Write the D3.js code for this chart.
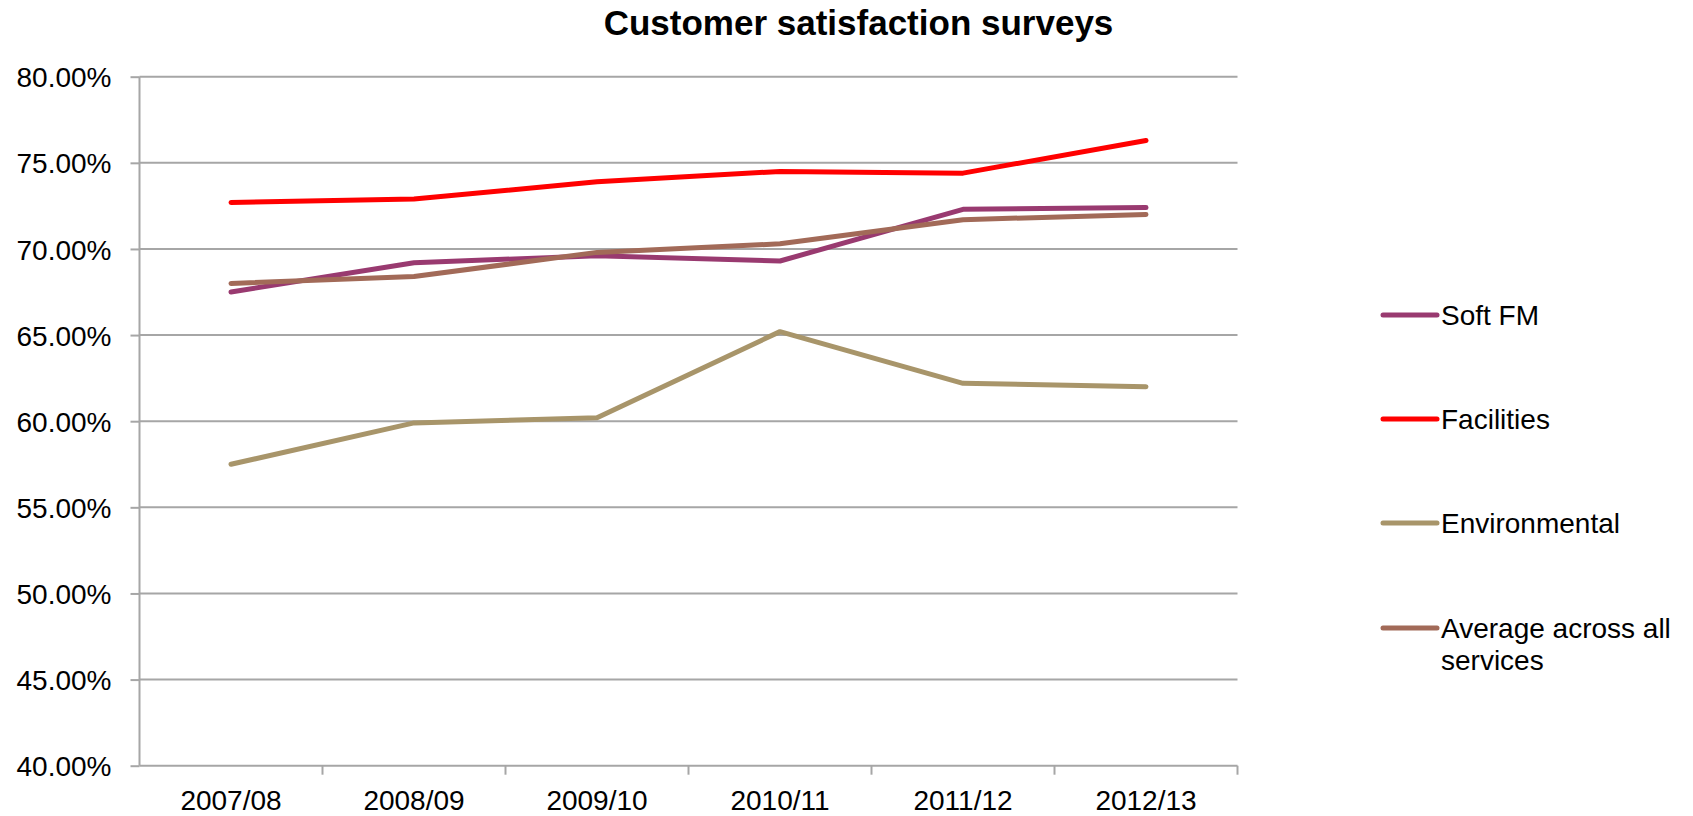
<!DOCTYPE html>
<html>
<head>
<meta charset="utf-8">
<script src="https://cdn.jsdelivr.net/npm/d3@7"></script>
<style>
  html, body { margin: 0; padding: 0; background: #fff; }
  svg { display: block; font-family: Arial, "Liberation Sans", sans-serif; }
</style>
</head>
<body>
<svg id="chart" width="1693" height="816"></svg>
<script>
// Survey years
const years = ["2007/08", "2008/09", "2009/10", "2010/11", "2011/12", "2012/13"];

// Satisfaction scores (%) per service
const softFM        = [67.5, 69.2, 69.6, 69.3, 72.3, 72.4];
const facilities    = [72.7, 72.9, 73.9, 74.5, 74.4, 76.3];
const environmental = [57.5, 59.9, 60.2, 65.2, 62.2, 62.0];
const average       = [68.0, 68.4, 69.8, 70.3, 71.7, 72.0];

const seriesNames  = ["Soft FM", "Facilities", "Environmental", "Average across all services"];
const seriesColors = ["#993a70", "#ff0000", "#a8956a", "#a26a58"];
const seriesValues = [softFM, facilities, environmental, average];

// Y axis ticks
const yTicks = [40, 45, 50, 55, 60, 65, 70, 75, 80];

const svg = d3.select("#chart");

const plot = { left: 139.5, right: 1237.5, top: 76.7, bottom: 765.7 };

const x = d3.scaleBand().domain(years).range([plot.left, plot.right]).padding(0);
const y = d3.scaleLinear().domain([40, 80]).range([plot.bottom, plot.top]);

const gridColor = "#a6a6a6";

// Title
svg.append("text")
  .attr("x", 858.5)
  .attr("y", 35)
  .attr("text-anchor", "middle")
  .attr("font-size", 35)
  .attr("font-weight", "bold")
  .attr("fill", "#000")
  .text("Customer satisfaction surveys");

// Horizontal gridlines
svg.append("g")
  .selectAll("line")
  .data(yTicks.filter(t => t !== 40))
  .join("line")
  .attr("x1", plot.left)
  .attr("x2", plot.right)
  .attr("y1", d => y(d))
  .attr("y2", d => y(d))
  .attr("stroke", gridColor)
  .attr("stroke-width", 2);

// Y axis
const yAxis = d3.axisLeft(y)
  .tickValues(yTicks)
  .tickSize(9)
  .tickPadding(19)
  .tickFormat(d => d.toFixed(2) + "%");

const gy = svg.append("g")
  .attr("transform", `translate(${plot.left},0)`)
  .call(yAxis);
gy.select(".domain").attr("stroke", gridColor).attr("stroke-width", 2)
  .attr("d", `M0,${plot.top}V${plot.bottom}`);
gy.selectAll(".tick line").attr("stroke", gridColor).attr("stroke-width", 2);
gy.selectAll(".tick text")
  .attr("font-size", 28)
  .attr("fill", "#000")
  .attr("font-family", "Arial, 'Liberation Sans', sans-serif")
  .attr("dy", "0.36em");

// X axis with ticks at category boundaries
const gx = svg.append("g")
  .attr("transform", `translate(0,${plot.bottom})`);
gx.append("line")
  .attr("x1", plot.left).attr("x2", plot.right)
  .attr("y1", 0).attr("y2", 0)
  .attr("stroke", gridColor).attr("stroke-width", 2);
gx.selectAll("line.tick")
  .data(years)
  .join("line")
  .attr("class", "tick")
  .attr("x1", d => x(d) + x.bandwidth())
  .attr("x2", d => x(d) + x.bandwidth())
  .attr("y1", 0).attr("y2", 9)
  .attr("stroke", gridColor).attr("stroke-width", 2);
gx.selectAll("text")
  .data(years)
  .join("text")
  .attr("x", d => x(d) + x.bandwidth() / 2)
  .attr("y", 44)
  .attr("text-anchor", "middle")
  .attr("font-size", 28)
  .attr("fill", "#000")
  .text(d => d);

// Series lines
const line = d3.line()
  .x((d, i) => x(years[i]) + x.bandwidth() / 2)
  .y(d => y(d));

svg.append("g")
  .selectAll("path")
  .data(seriesValues)
  .join("path")
  .attr("d", d => line(d))
  .attr("fill", "none")
  .attr("stroke", (d, i) => seriesColors[i])
  .attr("stroke-width", 5)
  .attr("stroke-linejoin", "round")
  .attr("stroke-linecap", "round");

// Legend
const legendY = [315, 419, 523, 628];
const legend = svg.append("g");
seriesNames.forEach((name, i) => {
  const g = legend.append("g").attr("transform", `translate(1383,${legendY[i]})`);
  g.append("line")
    .attr("x1", 0).attr("x2", 54)
    .attr("y1", 0).attr("y2", 0)
    .attr("stroke", seriesColors[i])
    .attr("stroke-width", 5)
    .attr("stroke-linecap", "round");
  const words = name === "Average across all services"
    ? ["Average across all", "services"] : [name];
  const t = g.append("text")
    .attr("x", 58)
    .attr("y", 0)
    .attr("font-size", 28)
    .attr("fill", "#000");
  words.forEach((w, j) => {
    t.append("tspan")
      .attr("x", 58)
      .attr("dy", j === 0 ? "0.36em" : 32)
      .text(w);
  });
});
</script>
</body>
</html>
